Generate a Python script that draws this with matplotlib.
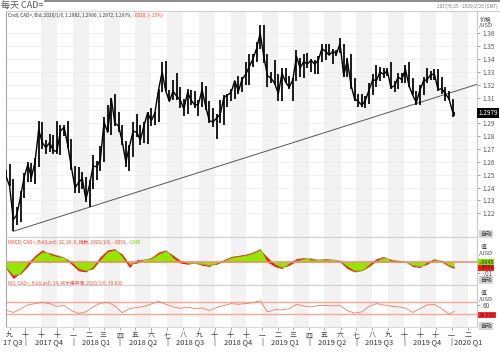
import matplotlib
matplotlib.use('Agg')
import matplotlib.pyplot as plt
import matplotlib.transforms as mtransforms
from matplotlib.lines import Line2D
import pandas as pd

plt.rcParams['font.family'] = ['Noto Sans CJK SC', 'DejaVu Sans']

# weekly candles (Friday), first bar 2017/8/25, last bar 2020/1/6
candle_dates = (pd.DatetimeIndex(['2017-08-25'])
                .append(pd.date_range('2017-09-01', '2020-01-03', freq='W-FRI'))
                .append(pd.DatetimeIndex(['2020-01-06'])))

close = [1.2490,
         1.2410, 1.2150, 1.2190, 1.2330, 1.2480, 1.2580, 1.2480, 1.2600, 1.2850,
         1.2750, 1.2710, 1.2750, 1.2690, 1.2680, 1.2840, 1.2870, 1.2730, 1.2560,
         1.2400, 1.2440, 1.2470, 1.2310, 1.2420, 1.2570, 1.2560, 1.2620, 1.2910, 1.2830,
         1.3090, 1.2900, 1.2880, 1.2760, 1.2600, 1.2720, 1.2840, 1.2830, 1.2770, 1.2880,
         1.2980, 1.2920, 1.2980, 1.3160, 1.3300, 1.3150, 1.3070, 1.3150, 1.3110, 1.3080,
         1.3010, 1.3140, 1.3080, 1.3040, 1.3050, 1.3160, 1.3030, 1.2920, 1.2910, 1.2940,
         1.2970, 1.3100, 1.3120, 1.3140, 1.3230, 1.3150, 1.3240, 1.3280, 1.3340, 1.3400,
         1.3480, 1.3600,
         1.3420, 1.3270, 1.3250, 1.3210, 1.3130, 1.3290, 1.3220, 1.3180, 1.3240, 1.3420,
         1.3330, 1.3380, 1.3360, 1.3390, 1.3360, 1.3390, 1.3480, 1.3460, 1.3430, 1.3460,
         1.3440, 1.3520, 1.3270, 1.3390, 1.3200, 1.3090, 1.3070, 1.3040, 1.3080, 1.3160,
         1.3240, 1.3230, 1.3300, 1.3280, 1.3310, 1.3180, 1.3190, 1.3260, 1.3240, 1.3320,
         1.3190, 1.3120, 1.3060, 1.3160, 1.3230, 1.3240, 1.3280, 1.3280, 1.3160, 1.3170,
         1.3130, 1.3090,
         1.2990, 1.2979]

high = [1.2540,
        1.2580, 1.2470, 1.2250, 1.2370, 1.2510, 1.2600, 1.2590, 1.2630, 1.2920,
        1.2910, 1.2770, 1.2820, 1.2810, 1.2920, 1.2890, 1.2890, 1.2920, 1.2780,
        1.2570, 1.2560, 1.2520, 1.2480, 1.2460, 1.2650, 1.2610, 1.2720, 1.2950, 1.3040,
        1.3100, 1.3125, 1.2990, 1.2890, 1.2760, 1.2730, 1.2910, 1.2970, 1.2890, 1.2910,
        1.2990, 1.3020, 1.2990, 1.3170, 1.3380, 1.3385, 1.3160, 1.3240, 1.3290, 1.3180,
        1.3090, 1.3170, 1.3160, 1.3150, 1.3080, 1.3220, 1.3190, 1.3070, 1.3020, 1.2970,
        1.3080, 1.3120, 1.3130, 1.3170, 1.3230, 1.3270, 1.3260, 1.3380, 1.3440, 1.3440,
        1.3530, 1.3665,
        1.3665, 1.3440, 1.3300, 1.3390, 1.3280, 1.3330, 1.3330, 1.3270, 1.3250, 1.3470,
        1.3410, 1.3440, 1.3450, 1.3400, 1.3390, 1.3420, 1.3520, 1.3520, 1.3520, 1.3480,
        1.3470, 1.3565, 1.3520, 1.3410, 1.3440, 1.3250, 1.3130, 1.3130, 1.3110, 1.3210,
        1.3280, 1.3350, 1.3340, 1.3330, 1.3330, 1.3380, 1.3230, 1.3290, 1.3290, 1.3350,
        1.3380, 1.3250, 1.3150, 1.3200, 1.3260, 1.3330, 1.3310, 1.3320, 1.3320, 1.3260,
        1.3180, 1.3150,
        1.3090, 1.2990]

low = [1.2470,
       1.2410, 1.2062, 1.2110, 1.2130, 1.2320, 1.2440, 1.2440, 1.2430, 1.2560,
       1.2700, 1.2660, 1.2680, 1.2660, 1.2660, 1.2650, 1.2800, 1.2710, 1.2540,
       1.2360, 1.2360, 1.2390, 1.2290, 1.2250, 1.2390, 1.2460, 1.2530, 1.2600, 1.2830,
       1.2810, 1.2880, 1.2830, 1.2730, 1.2560, 1.2530, 1.2640, 1.2790, 1.2730, 1.2750,
       1.2740, 1.2880, 1.2890, 1.2910, 1.3140, 1.3150, 1.3070, 1.3080, 1.3080, 1.3020,
       1.2960, 1.2970, 1.3040, 1.3020, 1.2960, 1.3030, 1.3000, 1.2900, 1.2870, 1.2780,
       1.2900, 1.2890, 1.3030, 1.3070, 1.3090, 1.3130, 1.3140, 1.3200, 1.3200, 1.3340,
       1.3380, 1.3480,
       1.3370, 1.3180, 1.3210, 1.3200, 1.3070, 1.3070, 1.3210, 1.3170, 1.3070, 1.3230,
       1.3260, 1.3250, 1.3330, 1.3300, 1.3280, 1.3280, 1.3380, 1.3390, 1.3430, 1.3360,
       1.3420, 1.3450, 1.3260, 1.3260, 1.3170, 1.3070, 1.3030, 1.3030, 1.3016, 1.3050,
       1.3120, 1.3180, 1.3230, 1.3250, 1.3270, 1.3170, 1.3140, 1.3170, 1.3210, 1.3210,
       1.3180, 1.3120, 1.3040, 1.3040, 1.3120, 1.3210, 1.3240, 1.3240, 1.3150, 1.3130,
       1.3070, 1.3080,
       1.2950, 1.2960]

# support line drawn on the chart
trend_dates = pd.to_datetime(['2017-09-08', '2020-02-19'])
trend_vals = [1.2060, 1.3203]

# indicators, read every two weeks
ind_dates = (pd.date_range('2017-08-25', periods=62, freq='14D')
             .append(pd.DatetimeIndex(['2020-01-06'])))
macd = [-0.006, -0.015, -0.010, -0.001, 0.006, 0.011, 0.007, 0.005, 0.004, -0.002,
        -0.008, -0.009, -0.004, 0.005, 0.011, 0.012, 0.005, -0.005, 0.002, 0.002,
        0.004, 0.009, 0.011, 0.004, -0.001, -0.002, -0.001, -0.003, -0.004, -0.001,
        0.002, 0.005, 0.006, 0.007, 0.009, 0.012, 0.000, -0.004, -0.006, -0.001,
        0.003, 0.004, 0.002, 0.002, 0.003, 0.002, 0.000, -0.006, -0.009, -0.008,
        -0.002, 0.003, 0.005, 0.001, 0.000, 0.000, -0.004, -0.005, 0.000, 0.003,
        0.000, -0.004, -0.0059]
signal = [-0.005, -0.012, -0.011, -0.004, 0.004, 0.009, 0.008, 0.006, 0.004, 0.000,
          -0.006, -0.008, -0.006, 0.002, 0.009, 0.011, 0.007, -0.002, -0.001, 0.002,
          0.003, 0.007, 0.010, 0.006, 0.001, -0.001, -0.001, -0.002, -0.003, -0.002,
          0.001, 0.004, 0.005, 0.006, 0.008, 0.011, 0.004, -0.002, -0.005, -0.003,
          0.001, 0.003, 0.003, 0.002, 0.002, 0.002, 0.001, -0.004, -0.008, -0.008,
          -0.004, 0.001, 0.004, 0.002, 0.001, 0.000, -0.003, -0.004, -0.002, 0.002,
          0.001, -0.003, -0.0045]
rsi = [44, 36, 47, 60, 64, 68, 64, 55, 58, 42,
       33, 38, 54, 65, 68, 57, 35, 48, 52, 55,
       63, 71, 62, 54, 49, 53, 48, 50, 42, 52,
       58, 64, 62, 64, 67, 73, 38, 45, 44, 48,
       62, 56, 54, 58, 58, 57, 58, 42, 34, 38,
       55, 64, 60, 56, 54, 50, 36, 48, 60, 61,
       48, 31, 39.63]

price_ticks = [1.22, 1.23, 1.24, 1.25, 1.26, 1.27, 1.28, 1.29,
               1.30, 1.31, 1.32, 1.33, 1.34, 1.35, 1.36]
month_starts = pd.date_range('2017-09-01', '2020-02-01', freq='MS')
month_names = ['九', '十', '十', '十', '一', '二', '三', '四', '五', '六', '七', '八',
               '九', '十', '十', '十', '一', '二', '三', '四', '五', '六', '七', '八',
               '九', '十', '十', '十', '一', '二']
quarter_names = ['2017 Q4', '2018 Q1', '2018 Q2', '2018 Q3', '2018 Q4',
                 '2019 Q1', '2019 Q2', '2019 Q3', '2019 Q4']
quarter_mid = pd.to_datetime(['2017-11-15', '2018-02-14', '2018-05-16', '2018-08-15',
                              '2018-11-15', '2019-02-14', '2019-05-16', '2019-08-15',
                              '2019-11-15'])
quarter_starts = pd.date_range('2017-10-01', '2020-01-01', freq='QS')

W, H = 500, 352
fig = plt.figure(figsize=(5, 3.52), dpi=100)


def box(x0, y0, x1, y1):
    return [x0 / W, 1 - y1 / H, (x1 - x0) / W, (y1 - y0) / H]


def ftext(x, y, s, **kw):
    return fig.text(x / W, 1 - y / H, s, **kw)


def short(v, nd):
    # Eikon drops the leading zero: -0.0059 -> -.0059
    return ('%.*f' % (nd, v)).replace('0.', '.', 1) if abs(v) < 1 else '%.*f' % (nd, v)


ax = fig.add_axes(box(6, 11, 477, 237))
ax_m = fig.add_axes(box(6, 237, 477, 285), sharex=ax)
ax_r = fig.add_axes(box(6, 285, 477, 327), sharex=ax)

xmin, xmax = pd.Timestamp('2017-08-25'), pd.Timestamp('2020-02-19')
shade_starts = pd.date_range('2017-11-01', '2020-01-01', freq='2MS')
for a in (ax, ax_m, ax_r):
    a.set_facecolor('white')
    for s in shade_starts:
        a.axvspan(s, s + pd.DateOffset(months=1), color='#f2f2f2', lw=0, zorder=0)
    a.spines['left'].set_color('#a8a8a8')
    a.spines['right'].set_color('#c8c8c8')
    a.spines['top'].set_color('#d0d0d0')
    a.spines['bottom'].set_color('#d8d8d8')
    for sp in a.spines.values():
        sp.set_linewidth(0.8)
    a.yaxis.tick_right()
    a.tick_params(axis='y', labelsize=4.6, colors='#555555', length=2.2, width=0.6, pad=1.5)
    a.tick_params(axis='y', color='#888888')
ax.set_xlim(xmin, xmax)

# price panel
ax.set_ylim(1.2016, 1.3773)
for lv in price_ticks:
    ax.axhline(lv, color='#ebebeb', lw=0.5, zorder=0.5)
ax.vlines(candle_dates, low, high, color='black', lw=1.25, zorder=3)
ax.plot(candle_dates, close, color='black', lw=1.0, zorder=3)
ax.plot(trend_dates, trend_vals, color='#555555', lw=0.7, zorder=2)
ax.set_yticks(price_ticks)
# the 1.30 label sits under the last-price box
ax.set_yticklabels(['' if abs(v - 1.30) < 1e-9 else '%.2f' % v for v in price_ticks])
ax.tick_params(axis='x', bottom=False, labelbottom=False)
tr = mtransforms.blended_transform_factory(ax.transAxes, ax.transData)
ax.text(1.003, close[-1], '%.4f' % close[-1], transform=tr, ha='left', va='center',
        fontsize=4.6, color='white', zorder=10,
        bbox=dict(boxstyle='square,pad=0.2', fc='black', ec='none'))

# MACD panel
ax_m.set_ylim(-0.0209, 0.0227)
ax_m.fill_between(ind_dates, 0, signal, color='#92e600', lw=0, zorder=2)
ax_m.fill_between(ind_dates, macd, signal, color='#ff1010', lw=0, zorder=2)
ax_m.plot(ind_dates, signal, color='#7a9a20', lw=0.4, zorder=3)
ax_m.axhline(0, color='#f08868', lw=1.1, zorder=4)
ax_m.set_yticks([-0.01])
ax_m.set_yticklabels(['-.01'])
ax_m.tick_params(axis='x', bottom=False, labelbottom=False)
trm = mtransforms.blended_transform_factory(ax_m.transAxes, ax_m.transData)
ax_m.annotate(short(signal[-1], 4), xy=(1.003, signal[-1]), xycoords=trm,
              xytext=(0, 3.4), textcoords='offset points', ha='left', va='center',
              fontsize=4.0, color='#222222', annotation_clip=False, zorder=10,
              bbox=dict(boxstyle='square,pad=0.1', fc='#88e000', ec='none'))
ax_m.annotate(short(macd[-1], 4), xy=(1.003, macd[-1]), xycoords=trm,
              xytext=(0, 0.4), textcoords='offset points', ha='left', va='center',
              fontsize=4.0, color='#222222', annotation_clip=False, zorder=10,
              bbox=dict(boxstyle='square,pad=0.1', fc='#ff1a1a', ec='none'))

# RSI panel
ax_r.set_ylim(-10, 123)
ax_r.axhline(70, color='#f6a896', lw=1.0, zorder=2)
ax_r.axhline(30, color='#f6a896', lw=1.0, zorder=2)
ax_r.plot(ind_dates, rsi, color='#f07a68', lw=0.6, zorder=3)
ax_r.set_yticks([60])
ax_r.set_yticklabels(['60'])
ax_r.set_xticks(month_starts)
ax_r.set_xticklabels(month_names)
ax_r.tick_params(axis='x', labelsize=5.0, colors='#444444', length=2, width=0.6, pad=0.8)
ax_r.tick_params(axis='x', color='#999999')
ax_r.set_xlim(xmin, xmax)
trr = mtransforms.blended_transform_factory(ax_r.transAxes, ax_r.transData)
ax_r.annotate('%.3f' % rsi[-1], xy=(1.003, rsi[-1]), xycoords=trr,
              xytext=(0, -2.7), textcoords='offset points', ha='left', va='center',
              fontsize=4.0, color='#222222', annotation_clip=False, zorder=10,
              bbox=dict(boxstyle='square,pad=0.12', fc='#ff2a2a', ec='none'))

# quarter row under the month letters
qy = -0.36
qtr = mtransforms.blended_transform_factory(ax_r.transData, ax_r.transAxes)
for d, name in zip(quarter_mid, quarter_names):
    ax_r.text(d, qy, name, transform=qtr, ha='center', va='center',
              fontsize=5.4, color='#333333', clip_on=False)
for d in quarter_starts:
    ax_r.text(d, qy, '|', transform=qtr, ha='center', va='center',
              fontsize=5.0, color='#333333', clip_on=False)
ax_r.text(pd.Timestamp('2017-09-26'), qy, '17 Q3', transform=qtr, ha='right',
          va='center', fontsize=5.4, color='#333333', clip_on=False)
ax_r.text(pd.Timestamp('2020-01-05'), qy, '2020 Q1', transform=qtr, ha='left',
          va='center', fontsize=5.4, color='#333333', clip_on=False)

# header
fig.add_artist(Line2D([45 / W, 1], [1 - 1 / H, 1 - 1 / H], color='#777777', lw=1.2))
fig.add_artist(Line2D([477 / W, 1], [1 - 11 / H, 1 - 11 / H], color='#d0d0d0', lw=0.8))
ftext(1, 5, '每天 CAD=', fontsize=6.5, color='#555555', va='center')
ftext(498, 6, '2017/8/25 - 2020/2/20 (GMT)', fontsize=3.3, color='#777777',
      va='center', ha='right')


def two_tone(x, y, a, b, ca, cb, size):
    t = ftext(x, y, a, fontsize=size, color=ca, va='center')
    r = fig.canvas.get_renderer()
    bb = t.get_window_extent(renderer=r)
    fig.text(bb.x1 / W, 1 - y / H, b, fontsize=size, color=cb, va='center')


two_tone(8, 15, 'Cndl, CAD=, Bid, 2020/1/6, 1.2982, 1.2990, 1.2972, 1.2979, ',
         '-.0020, (-.15%)', '#333333', '#ff3b2b', 3.4)
two_tone(8, 242, 'MACD, CAD=, Bid(Last), 12, 26, 9, 指数, 2020/1/6, -.0059, ',
         '-.0045', '#ff3b2b', '#66cc00', 3.4)
ftext(8, 283, 'RSI, CAD=, Bid(Last), 14, 威尔德平滑, 2020/1/6, 39.630',
      fontsize=3.4, color='#f05a48', va='center')

# right-side captions
ftext(480, 20, '价格', fontsize=4.2, color='#444444', va='center')
ftext(479, 25.5, '/USD', fontsize=4.2, color='#444444', va='center')
for yy in (247, 293):
    ftext(481, yy, '值', fontsize=4.2, color='#444444', va='center')
    ftext(479, yy + 6, '/USD', fontsize=4.2, color='#444444', va='center')
for yy in (234, 280, 326):
    ftext(480, yy, '自动', fontsize=4.2, color='#333333', va='center',
          bbox=dict(boxstyle='square,pad=0.2', fc='#d4d4d4', ec='none'))

fig.savefig('out.png', dpi=100, facecolor='white')
